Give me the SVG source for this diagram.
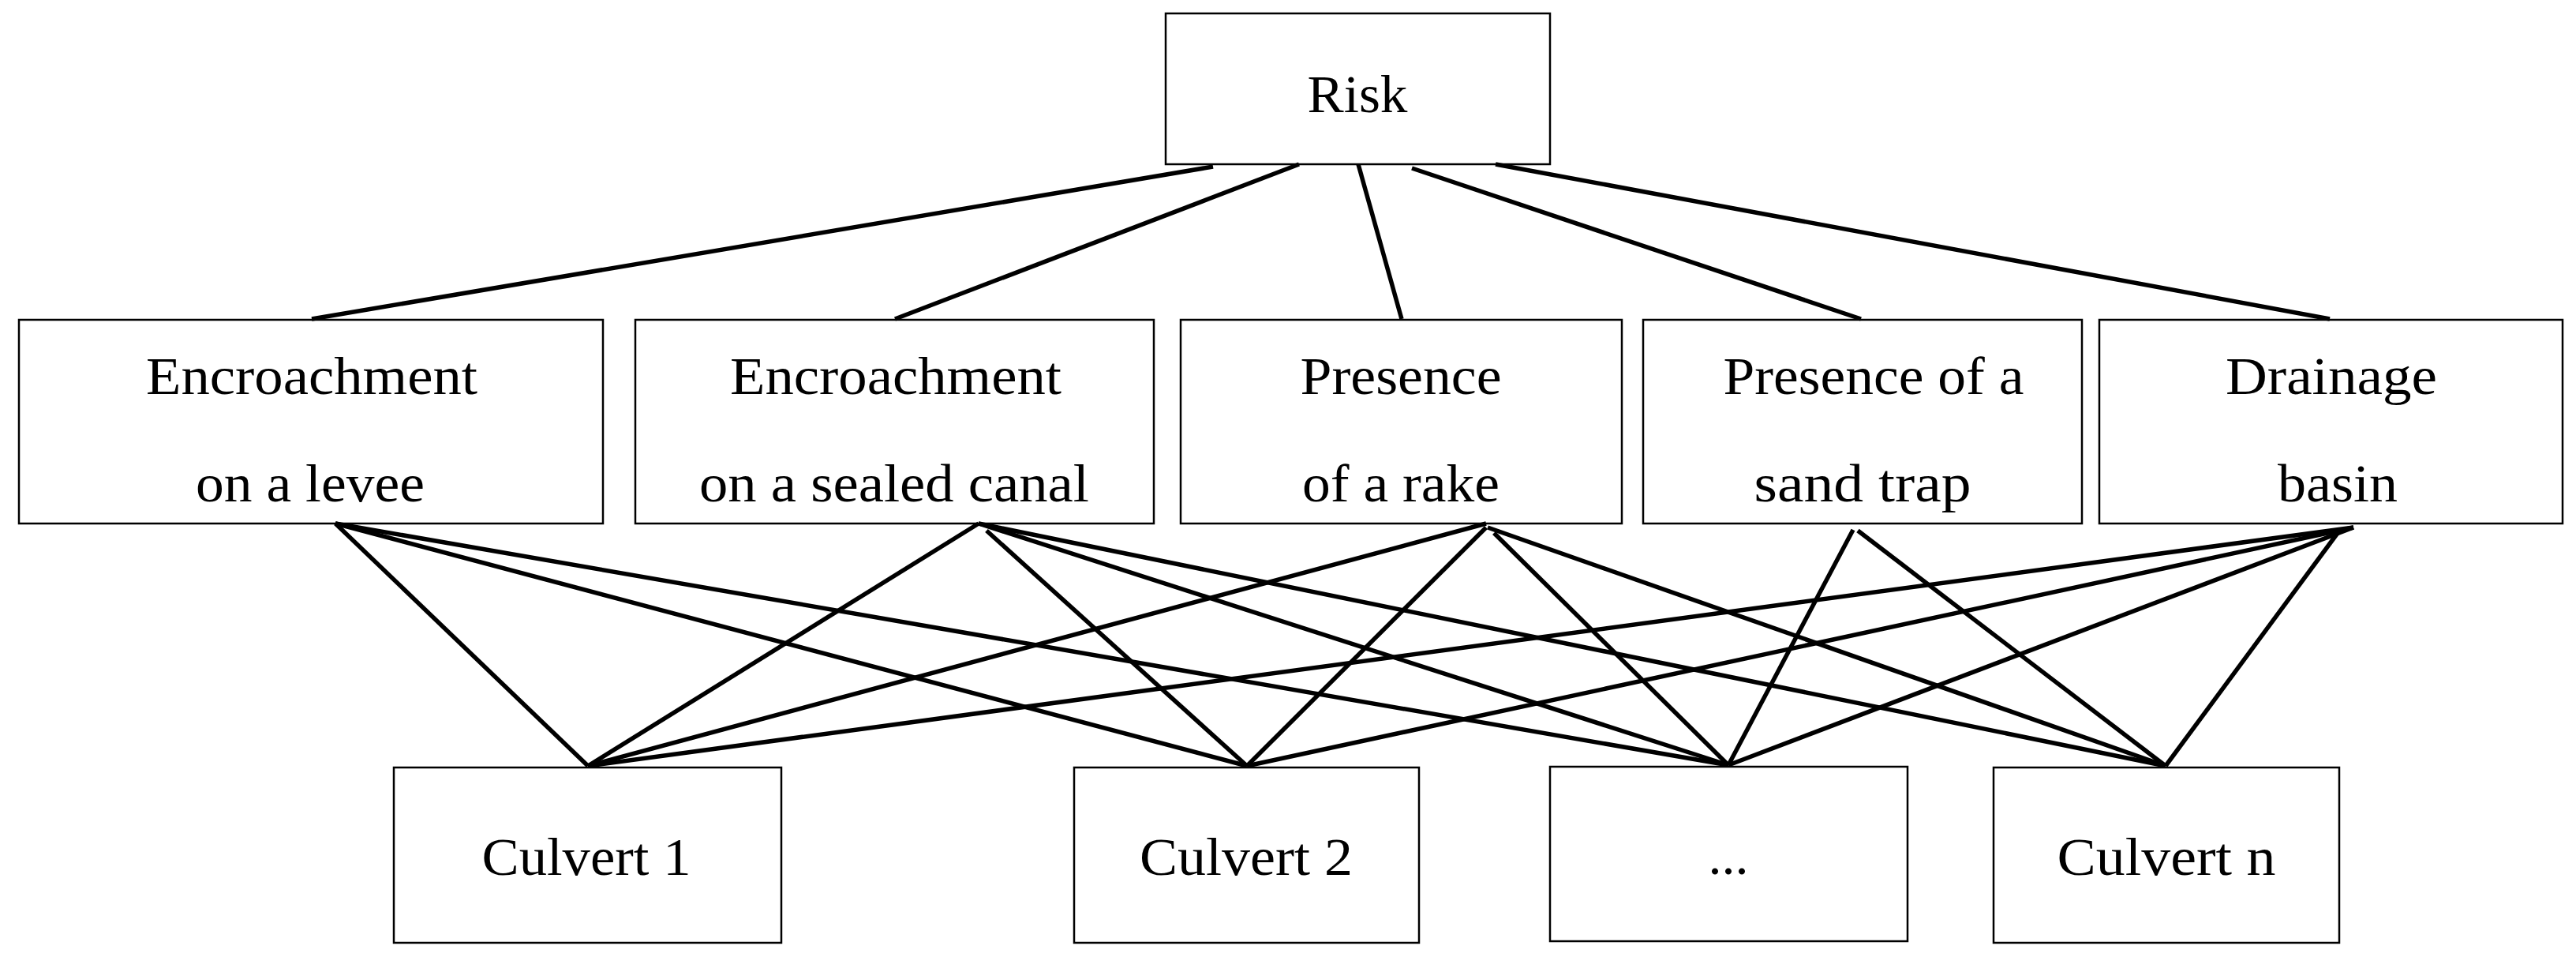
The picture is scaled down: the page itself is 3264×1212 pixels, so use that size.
<svg xmlns="http://www.w3.org/2000/svg" width="3264" height="1212" viewBox="0 0 3264 1212">
<style>
.box{fill:#fff;stroke:#000;stroke-width:2.5}
.t{font-family:"Liberation Serif","DejaVu Serif",serif;font-size:68px;fill:#000;text-anchor:middle}
.c line{stroke:#000;stroke-width:5.5;stroke-linecap:butt}
</style>
<rect width="3264" height="1212" fill="#fff"/>
<g id="risk"><rect class="box" x="1477" y="17" width="487" height="191"/><text class="t" x="1720" y="142" textLength="127" lengthAdjust="spacingAndGlyphs">Risk</text></g>
<g id="levee"><rect class="box" x="24" y="405" width="740" height="258"/><text class="t" x="395" y="499" textLength="420" lengthAdjust="spacingAndGlyphs">Encroachment</text><text class="t" x="393" y="635" textLength="290" lengthAdjust="spacingAndGlyphs">on a levee</text></g>
<g id="canal"><rect class="box" x="805" y="405" width="657" height="258"/><text class="t" x="1135" y="499" textLength="420" lengthAdjust="spacingAndGlyphs">Encroachment</text><text class="t" x="1133" y="635" textLength="494" lengthAdjust="spacingAndGlyphs">on a sealed canal</text></g>
<g id="rake"><rect class="box" x="1496" y="405" width="559" height="258"/><text class="t" x="1775" y="499" textLength="255" lengthAdjust="spacingAndGlyphs">Presence</text><text class="t" x="1775" y="635" textLength="250" lengthAdjust="spacingAndGlyphs">of a rake</text></g>
<g id="sandtrap"><rect class="box" x="2082" y="405" width="556" height="258"/><text class="t" x="2374" y="499" textLength="381" lengthAdjust="spacingAndGlyphs">Presence of a</text><text class="t" x="2360" y="635" textLength="275" lengthAdjust="spacingAndGlyphs">sand trap</text></g>
<g id="drainage"><rect class="box" x="2660" y="405" width="587" height="258"/><text class="t" x="2954" y="499" textLength="268" lengthAdjust="spacingAndGlyphs">Drainage</text><text class="t" x="2962" y="635" textLength="152" lengthAdjust="spacingAndGlyphs">basin</text></g>
<g id="culvert1"><rect class="box" x="499" y="972" width="491" height="222"/><text class="t" x="743" y="1108" textLength="265" lengthAdjust="spacingAndGlyphs">Culvert 1</text></g>
<g id="culvert2"><rect class="box" x="1361" y="972" width="437" height="222"/><text class="t" x="1579" y="1108" textLength="270" lengthAdjust="spacingAndGlyphs">Culvert 2</text></g>
<g id="culvertdots"><rect class="box" x="1964" y="971" width="453" height="221"/><text class="t" x="2190" y="1107">...</text></g>
<g id="culvertn"><rect class="box" x="2526" y="972" width="438" height="222"/><text class="t" x="2745" y="1108" textLength="277" lengthAdjust="spacingAndGlyphs">Culvert n</text></g>
<g id="connectors" class="c">
<line x1="1537" y1="211" x2="395" y2="404"/>
<line x1="1646" y1="208" x2="1134" y2="404"/>
<line x1="1721" y1="208" x2="1776" y2="404"/>
<line x1="1789" y1="213" x2="2358" y2="404"/>
<line x1="1895" y1="208" x2="2952" y2="404"/>
<line x1="425" y1="663" x2="745" y2="970"/>
<line x1="425" y1="663" x2="1580" y2="970"/>
<line x1="425" y1="663" x2="2190" y2="969"/>
<line x1="1240" y1="663" x2="745" y2="970"/>
<line x1="1250" y1="672" x2="1580" y2="970"/>
<line x1="1240" y1="663" x2="2190" y2="969"/>
<line x1="1240" y1="663" x2="2744" y2="970"/>
<line x1="1883" y1="663" x2="745" y2="970"/>
<line x1="1883" y1="668" x2="1580" y2="970"/>
<line x1="1893" y1="675" x2="2190" y2="969"/>
<line x1="1885" y1="668" x2="2744" y2="970"/>
<line x1="2348" y1="671" x2="2190" y2="969"/>
<line x1="2354" y1="672" x2="2744" y2="970"/>
<line x1="2982" y1="668" x2="745" y2="970"/>
<line x1="2982" y1="668" x2="1580" y2="970"/>
<line x1="2982" y1="668" x2="2190" y2="969"/>
<line x1="2962" y1="675" x2="2744" y2="970"/>
</g>
</svg>
